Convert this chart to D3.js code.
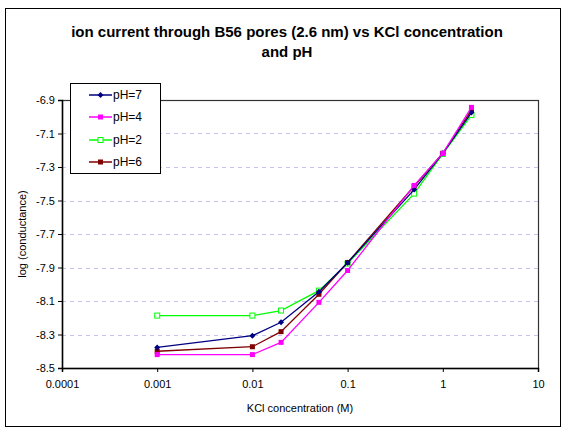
<!DOCTYPE html>
<html><head><meta charset="utf-8">
<script src="https://cdn.jsdelivr.net/npm/d3@7"></script>
<style>body{margin:0;background:#fff}svg{display:block}text{font-family:"Liberation Sans Narrow","Liberation Sans",Arial,sans-serif}</style>
</head><body><svg id="c" width="565" height="430"></svg>
<script>
const concentrations = [0.001, 0.01, 0.02, 0.05, 0.1, 0.5, 1, 2];
const seriesNames = ["pH=7", "pH=4", "pH=2", "pH=6"];
const pH7 = [-8.377, -8.307, -8.227, -8.045, -7.872, -7.435, -7.218, -6.975];
const pH4 = [-8.42, -8.42, -8.347, -8.108, -7.918, -7.41, -7.219, -6.944];
const pH2 = [-8.187, -8.187, -8.157, -8.038, -7.876, -7.459, -7.222, -6.99];
const pH6 = [-8.40, -8.373, -8.283, -8.06, -7.87, -7.415, -7.218, -6.96];
const colors = ["#000080", "#ff00ff", "#00ff00", "#800000"];
const xTicks = [0.0001, 0.001, 0.01, 0.1, 1, 10];
const xTickLabels = ["0.0001", "0.001", "0.01", "0.1", "1", "10"];
const yTicks = [-6.9, -7.1, -7.3, -7.5, -7.7, -7.9, -8.1, -8.3, -8.5];
const title = ["ion current through B56 pores (2.6 nm) vs KCl concentration", "and pH"];

const svg = d3.select("#c");
svg.append("rect").attr("x",5.5).attr("y",8.5).attr("width",555).attr("height",418)
  .attr("fill","#fff").attr("stroke","#000").attr("stroke-width",1);

const L=62,R=538,T=100,B=368;
const x = d3.scaleLog().domain([0.0001,10]).range([L,R]);
const y = d3.scaleLinear().domain([-8.5,-6.9]).range([B,T]);

// gridlines
svg.append("g").selectAll("line").data(yTicks.slice(1,-1)).join("line")
  .attr("x1",L).attr("x2",R).attr("y1",d=>Math.round(y(d))+0.5).attr("y2",d=>Math.round(y(d))+0.5)
  .attr("stroke","#c4c4f4").attr("stroke-dasharray","4,4").attr("stroke-width",1);

// plot frame
svg.append("rect").attr("x",L+0.5).attr("y",T+0.5).attr("width",R-L).attr("height",B-T)
  .attr("fill","none").attr("stroke","#333").attr("stroke-width",1.2);

// axes
const xAxis = d3.axisBottom(x).tickValues(xTicks).tickFormat((d,i)=>xTickLabels[i]).tickSize(4).tickPadding(8);
const gx = svg.append("g").attr("transform",`translate(0,${B})`).call(xAxis);
gx.select(".domain").attr("stroke","#000").attr("stroke-width",1.5);
gx.selectAll(".tick line").attr("stroke","#000");
gx.selectAll("text").attr("font-size",11).attr("fill","#000");

const yAxis = d3.axisLeft(y).tickValues(yTicks).tickFormat(d=>d3.format(".1f")(d).replace("−","-")).tickSize(4).tickPadding(3);
const gy = svg.append("g").attr("transform",`translate(${L},0)`).call(yAxis);
gy.select(".domain").attr("stroke","#000").attr("stroke-width",1.5);
gy.selectAll(".tick line").attr("stroke","#000");
gy.selectAll("text").attr("font-size",11).attr("fill","#000");

// series
const allSeries = [pH7, pH4, pH2, pH6];
const line = d3.line().x((d,i)=>x(concentrations[i])).y(d=>y(d));
const markers = ["diamond","square","hollow","square"];
function drawMarker(g, kind, cx, cy, color){
  if(kind==="diamond"){
    g.append("path").attr("d",`M${cx},${cy-3}L${cx+3},${cy}L${cx},${cy+3}L${cx-3},${cy}Z`).attr("fill",color);
  } else if(kind==="square"){
    g.append("rect").attr("x",cx-2.5).attr("y",cy-2.5).attr("width",5).attr("height",5).attr("fill",color);
  } else {
    g.append("rect").attr("x",cx-2.5).attr("y",cy-2.5).attr("width",5).attr("height",5).attr("fill","#fff").attr("stroke",color).attr("stroke-width",1);
  }
}
const order = [2,3,0,1];
order.forEach(si=>{
  const g = svg.append("g");
  g.append("path").datum(allSeries[si]).attr("d",line).attr("fill","none").attr("stroke",colors[si]).attr("stroke-width",1.3);
  allSeries[si].forEach((v,i)=>drawMarker(g, markers[si], x(concentrations[i]), y(v), colors[si]));
});

// legend
const lg = svg.append("g");
lg.append("rect").attr("x",70.5).attr("y",83.5).attr("width",90).attr("height",90).attr("fill","#fff").attr("stroke","#000").attr("stroke-width",1);
const legY = [95,117,140,162];
seriesNames.forEach((n,i)=>{
  lg.append("line").attr("x1",89).attr("x2",112).attr("y1",legY[i]).attr("y2",legY[i]).attr("stroke",colors[i]).attr("stroke-width",1.5);
  drawMarker(lg, markers[i], 100.5, legY[i], colors[i]);
  lg.append("text").attr("x",113).attr("y",legY[i]+4).attr("font-size",12).text(n);
});

// titles
svg.append("g").selectAll("text").data(title).join("text")
  .attr("x",287).attr("y",(d,i)=>37+i*20).attr("text-anchor","middle")
  .attr("font-size",15).attr("font-weight","bold").text(d=>d);

svg.append("text").attr("x",(L+R)/2).attr("y",412).attr("text-anchor","middle").attr("font-size",11).text("KCl concentration (M)");
svg.append("text").attr("transform",`translate(26,${(T+B)/2}) rotate(-90)`).attr("text-anchor","middle").attr("font-size",11).text("log (conductance)");
</script></body></html>
